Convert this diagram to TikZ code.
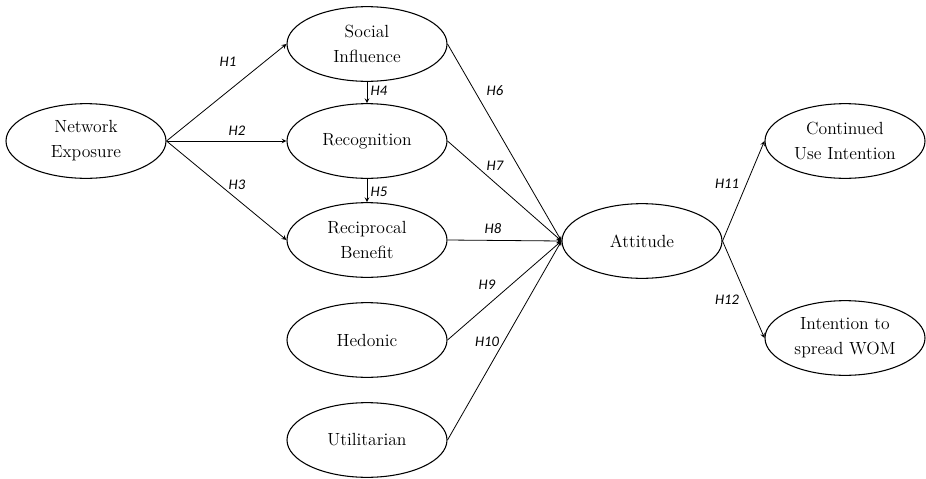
\documentclass[tikz,border=0pt]{standalone}
\usepackage{fontspec}
\newfontfamily\hypfont{Carlito}
\usetikzlibrary{shapes.geometric}
\begin{document}
\begin{tikzpicture}[>=stealth,x=0.75pt,y=-0.75pt,line width=0.6pt,
	construct/.style={ellipse,draw,line width=0.8pt,minimum width=120pt,minimum height=56pt,inner sep=0pt,align=center,font=\fontsize{13.2}{18.7}\selectfont},
	hyp/.style={font=\hypfont\itshape\fontsize{11}{12}\selectfont,inner sep=0pt}]
		\useasboundingbox (0,0) rectangle (926,479);
		% constructs
		\node[construct] (ne) at (86,141) {Network\\Exposure};
		\node[construct] (si) at (367,44) {Social\\Influence};
		\node[construct] (rc) at (367,141) {Recognition};
		\node[construct] (rb) at (367,240) {Reciprocal\\Benefit};
		\node[construct] (he) at (367,340) {Hedonic};
		\node[construct] (ut) at (367,440) {Utilitarian};
		\node[construct] (at) at (642,241) {Attitude};
		\node[construct] (cu) at (845,141) {Continued\\Use Intention};
		\node[construct] (wm) at (845,338) {Intention to\\spread WOM};
		% paths
		\draw[->] (ne.east) -- (si.west);
		\draw[->] (ne.east) -- (rc.west);
		\draw[->] (ne.east) -- (rb.west);
		\draw[->] (si.south) -- (rc.north);
		\draw[->] (rc.south) -- (rb.north);
		\foreach \src in {si,rc,rb,he,ut}
			\draw[->] (\src.east) -- (at.west);
		\draw[->] (at.east) -- (cu.west);
		\draw[->] (at.east) -- (wm.west);
		% hypotheses
		\node[hyp] (h1) at (228,62) {H1};
		\node[hyp] (h2) at (237,131) {H2};
		\node[hyp] (h3) at (237,185) {H3};
		\node[hyp] (h4) at (379,91) {H4};
		\node[hyp] (h5) at (379,192) {H5};
		\node[hyp] (h6) at (495,91) {H6};
		\node[hyp] (h7) at (495,166) {H7};
		\node[hyp] (h8) at (493,229) {H8};
		\node[hyp] (h9) at (487,285) {H9};
		\node[hyp] (h10) at (487,342) {H10};
		\node[hyp] (h11) at (727,184) {H11};
		\node[hyp] (h12) at (727,300) {H12};
	\end{tikzpicture}
\end{document}
